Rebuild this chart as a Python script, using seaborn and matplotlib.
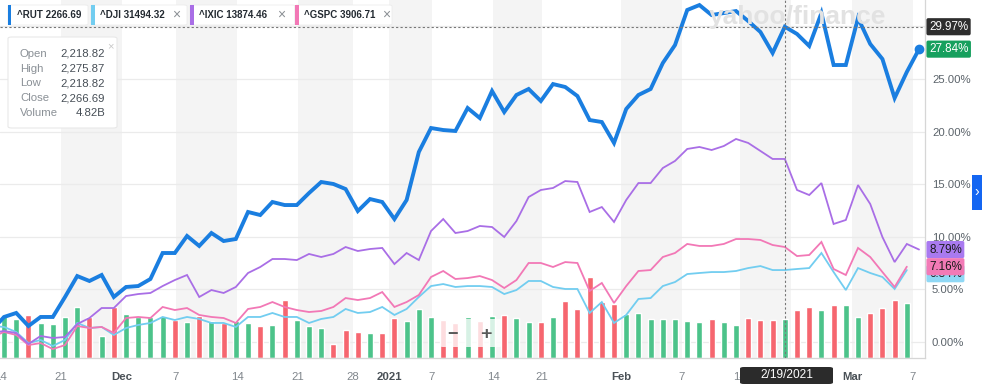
import matplotlib
matplotlib.use("Agg")
import matplotlib.pyplot as plt
import numpy as np
import pandas as pd
import seaborn as sns
from matplotlib.patches import FancyBboxPatch, Rectangle
from matplotlib.transforms import blended_transform_factory

# ---------------- data ----------------
holidays = ["2020-11-26", "2020-12-25", "2021-01-01", "2021-01-18", "2021-02-15"]
dates = [d for d in pd.bdate_range("2020-11-13", "2021-03-08")
         if d.strftime("%Y-%m-%d") not in holidays]

rut = [1.10, 2.38, 2.76, 1.52, 2.38, 2.38, 4.28, 6.27, 5.80, 6.37, 4.28, 5.23, 5.32, 5.99, 8.46,
       8.46, 10.08, 9.13, 10.36, 9.60, 9.79, 12.36, 12.07, 13.31, 13.02, 13.02, 14.16, 15.21,
       15.02, 14.54, 12.45, 13.59, 13.31, 11.69, 13.50, 18.06, 20.34, 20.15, 20.06, 22.24, 21.29,
       23.86, 21.86, 23.48, 24.05, 22.91, 24.52, 24.24, 23.38, 21.10, 20.91, 18.92, 22.15, 23.48,
       24.05, 26.52, 28.23, 31.56, 32.03, 31.08, 31.27, 31.46, 30.51, 29.47, 27.47, 29.97, 29.28,
       28.14, 31.27, 26.33, 26.33, 30.80, 28.33, 26.90, 23.19, 25.67, 27.84]
ixic = [0.86, 1.05, 0.86, -0.19, 0.57, 0.38, 0.48, 1.71, 2.28, 3.23, 3.23, 4.37, 4.56, 4.66, 5.32,
        5.89, 6.37, 4.28, 4.94, 4.66, 5.23, 6.56, 7.13, 7.89, 7.89, 7.79, 8.37, 8.08, 8.37, 9.03,
        8.65, 8.84, 8.94, 7.41, 8.46, 7.79, 10.55, 11.69, 10.36, 10.55, 11.03, 10.93, 9.98, 11.50,
        13.78, 14.45, 14.64, 15.30, 15.21, 12.36, 12.83, 11.41, 13.50, 15.11, 15.11, 16.54, 17.21,
        18.35, 18.54, 18.25, 18.63, 19.30, 18.92, 18.16, 17.40, 17.40, 14.45, 13.97, 15.11, 11.22,
        11.60, 14.92, 13.12, 9.98, 7.60, 9.32, 8.79]
gspc = [0.48, 0.95, 0.67, -0.29, -0.10, -0.67, -0.29, 1.52, 1.33, 1.43, 0.86, 2.28, 2.38, 2.28,
        3.33, 3.04, 3.23, 2.57, 2.38, 2.28, 1.81, 3.14, 3.33, 3.80, 3.33, 3.04, 2.85, 2.95, 3.33,
        4.18, 3.99, 4.18, 4.75, 3.33, 3.80, 4.47, 6.18, 6.75, 5.99, 6.08, 6.27, 5.89, 5.13, 5.89,
        7.51, 7.51, 7.13, 7.60, 7.51, 4.85, 5.61, 3.71, 5.32, 6.75, 6.84, 8.08, 8.46, 9.32, 9.13,
        9.13, 9.32, 9.79, 9.79, 9.70, 9.22, 9.03, 8.17, 8.27, 9.51, 6.94, 6.37, 8.94, 8.08, 6.65,
        5.23, 7.16]
dji = [1.52, 1.43, 0.95, -0.10, 0.19, -0.38, 0.19, 1.81, 1.33, 1.43, 0.67, 1.33, 1.62, 1.81, 2.38,
       2.09, 2.38, 2.19, 1.81, 1.81, 1.43, 2.38, 2.38, 2.76, 2.38, 2.38, 1.81, 2.19, 2.38, 3.14,
       2.76, 2.85, 3.33, 2.57, 3.14, 4.28, 5.32, 5.51, 5.23, 5.32, 5.32, 5.23, 4.56, 4.94, 5.80,
       5.80, 5.23, 5.04, 5.04, 2.76, 3.80, 1.81, 2.57, 4.09, 4.18, 5.32, 5.70, 6.46, 6.56, 6.65,
       6.65, 6.75, 7.03, 7.22, 6.84, 6.84, 6.94, 7.03, 8.46, 6.65, 4.94, 7.03, 6.56, 6.18, 5.04, 6.84]

# RUT volume (billions), from Nov 16 on
volume = [3.77, 3.42, 3.77, 3.07, 2.98, 3.60, 4.47, 3.60, 1.93, 4.47,
          3.86, 3.60, 3.60, 3.68, 3.33, 3.16, 3.68, 3.24, 3.07, 3.24,
          3.07, 2.81, 2.89, 5.09, 3.33, 2.81, 2.63, 1.23, 2.46, 2.28,
          2.19, 2.19, 3.51, 3.24, 4.30, 3.60, 3.33, 3.07, 3.60, 3.24,
          3.68, 3.77, 3.51, 3.16, 3.16, 3.60, 5.00, 4.30, 7.10, 4.91,
          4.74, 3.86, 3.95, 3.42, 3.42, 3.42, 3.24, 3.16, 3.42, 3.16,
          2.89, 3.51, 3.33, 3.33, 3.42, 4.21, 4.47, 4.21, 4.65, 4.65,
          3.60, 3.95, 4.39, 5.09, 4.82]
vol_dir = list("GGRGGGGRGR" "GGGGRGRGRG" "GRGRGGGRRR" "GRRGGGRRGR" "GRGGRGRRRR"
               "RGGGGGGGRG" "GRRRGRRGRG" "GRRRG")

tick_labels = ["14", "21", "Dec", "7", "14", "21", "28", "2021", "7", "14", "21", "Feb",
               "7", "14", "21", "Mar", "7"]
tick_major = {"Dec", "2021", "Feb", "Mar"}
tick_pos = [-0.3, 4.67, 9.67, 14.1, 19.1, 24.1, 28.6, 31.56, 35.08, 40.08, 44.1, 50.57,
            55.57, 60.3, 64.5, 69.5, 74.5]

legend_items = [("^RUT", "2266.69", "#1a7ee0", False),
                ("^DJI", "31494.32", "#72cdf0", True),
                ("^IXIC", "13874.46", "#a96ee6", True),
                ("^GSPC", "3906.71", "#f278b6", True)]
info_rows = [("Open", "2,218.82"), ("High", "2,275.87"), ("Low", "2,218.82"),
             ("Close", "2,266.69"), ("Volume", "4.82B")]
cross_idx = 64
cross_value = 29.97
cross_date = "2/19/2021"

# ---------------- figure ----------------
sns.set_theme(style="white")
plt.rcParams["font.family"] = ["Liberation Sans", "DejaVu Sans"]

W, H = 982, 391
fig = plt.figure(figsize=(W / 100, H / 100), dpi=100)
fig.patch.set_facecolor("white")
rect = [0, 33 / H, 925 / W, 358 / H]
XL = (-0.33, 75.49)
YL = (-1.52, 32.51)

def fx(x):
    return x / W

def fy(y):
    return 1 - y / H

# background axes: stripes + grid
axg = fig.add_axes(rect)
axg.set_xlim(*XL)
axg.set_ylim(*YL)
for i in range(1, len(tick_pos) - 1, 2):
    axg.axvspan(tick_pos[i], tick_pos[i + 1], color="#f4f4f4", lw=0, zorder=0)
for v in range(0, 31, 5):
    axg.axhline(v, color="#ebebeb", lw=0.9, zorder=1)
axg.axis("off")

# volume axes
axv = fig.add_axes(rect)
axv.patch.set_alpha(0)
vdf = pd.DataFrame({"pos": np.arange(len(volume)), "vol": volume, "dir": vol_dir})
sns.barplot(data=vdf, x="pos", y="vol", hue="dir", native_scale=True, dodge=False,
            palette={"G": "#4cc38a", "R": "#f6666f"}, width=0.5, saturation=1,
            errorbar=None, legend=False, ax=axv)
axv.set_xlim(*XL)
axv.set_ylim(0, 31.4)
axv.axis("off")

# main axes
ax = fig.add_axes(rect)
ax.patch.set_alpha(0)
pos_full = np.arange(len(dates)) - 1
series = [(dji, "#72cdf0", 1.3), (gspc, "#f278b6", 1.3), (ixic, "#a96ee6", 1.3), (rut, "#1a7ee0", 2.8)]
for vals, col, lw in series:
    sns.lineplot(x=pos_full[:len(vals)], y=vals, color=col, linewidth=lw, ax=ax,
                 solid_joinstyle="miter", zorder=4)
ax.plot([pos_full[len(rut) - 1]], [rut[-1]], "o", color="#1a7ee0", ms=6, zorder=5, clip_on=False)

ax.set_xlim(*XL)
ax.set_ylim(*YL)
ax.set_xlabel("")
ax.set_ylabel("")
ax.yaxis.tick_right()
ax.set_yticks(range(0, 26, 5))
ax.set_yticklabels([f"{v:.2f}%" for v in range(0, 26, 5)])
ax.tick_params(axis="y", length=0, pad=5, labelsize=8.2, labelcolor="#5b636a")
ax.set_xticks(tick_pos)
ax.set_xticklabels(tick_labels)
ax.tick_params(axis="x", length=4, width=0.8, color="#d0d0d0", pad=6, labelsize=8.2,
               labelcolor="#80868c")
for t in ax.get_xticklabels():
    if t.get_text() in tick_major:
        t.set_color("#4a5157")
        t.set_fontweight("bold")
for s in ["top", "left"]:
    ax.spines[s].set_visible(False)
for s in ["right", "bottom"]:
    ax.spines[s].set_color("#d6d6d6")
    ax.spines[s].set_linewidth(0.9)

# crosshair
ax.axvline(cross_idx, color="#777777", lw=0.8, ls=(0, (2, 2)), zorder=6)
ax.axhline(cross_value, color="#777777", lw=0.8, ls=(0, (2, 2)), zorder=6)

# right value labels
bt = blended_transform_factory(ax.transAxes, ax.transData)
def vlabel(y, txt, bg, fg):
    ax.text(1.0 + 4 / 925, y, txt, transform=bt, ha="left", va="center", fontsize=8.4,
            color=fg, clip_on=False, zorder=10,
            bbox=dict(boxstyle="round,pad=0.22,rounding_size=0.15", fc=bg, ec="none"))
vlabel(cross_value, f"{cross_value:.2f}%", "#2e2e2e", "white")
vlabel(rut[-1], f"{rut[-1]:.2f}%", "#16a05e", "white")
vlabel(ixic[-1], f"{ixic[-1]:.2f}%", "#a97af0", "#1b1b1b")
vlabel(dji[-1] - 0.35, f"{dji[-1]:.2f}%", "#8fd8f5", "#1b1b1b")
vlabel(gspc[-1], f"{gspc[-1]:.2f}%", "#f27ab6", "#1b1b1b")

# legend chips
chip_x = [8, 91, 190, 295]
chip_w = [80, 96, 105, 97]
close_x = [None, 176, 281, 386]
for (name, val, col, closable), x0, w, cx in zip(legend_items, chip_x, chip_w, close_x):
    fig.patches.append(FancyBboxPatch((fx(x0), fy(25)), w / W, 20 / H,
                                      boxstyle="round,pad=0,rounding_size=0.003",
                                      transform=fig.transFigure, fc="white", ec="#ececec",
                                      lw=0.6, zorder=20))
    fig.patches.append(Rectangle((fx(x0), fy(25)), 3.5 / W, 20 / H, transform=fig.transFigure,
                                 fc=col, ec="none", zorder=21))
    fig.text(fx(x0 + 9), fy(15), f"{name} {val}", ha="left", va="center", fontsize=7.0,
             color="#232a31", fontweight="bold", zorder=22)
    if closable:
        fig.text(fx(cx), fy(15), "\u00d7", ha="center", va="center", fontsize=10,
                 color="#8a8f94", zorder=22)

# info box
fig.patches.append(FancyBboxPatch((fx(8), fy(128)), 109 / W, 91 / H,
                                  boxstyle="round,pad=0,rounding_size=0.004",
                                  transform=fig.transFigure, fc="white", ec="#e8e8e8",
                                  lw=0.8, zorder=20))
for k, (lab, val) in enumerate(info_rows):
    yy = fy(54 + 14.7 * k)
    fig.text(fx(20), yy, lab, ha="left", va="center", fontsize=8.2, color="#8a9096", zorder=22)
    fig.text(fx(105), yy, val, ha="right", va="center", fontsize=8.2, color="#464e56", zorder=22)
fig.text(fx(110), fy(46), "\u00d7", ha="center", va="center", fontsize=8, color="#c8c8c8", zorder=22)

# watermark
fig.text(fx(797), fy(17), "yahoo/finance", ha="center", va="center", fontsize=19,
         fontweight="bold", color="#e2e2e2", zorder=3)

# zoom control
fig.patches.append(FancyBboxPatch((fx(440), fy(347)), 62 / W, 28 / H,
                                  boxstyle="round,pad=0,rounding_size=0.003",
                                  transform=fig.transFigure, fc=(1, 1, 1, 0.78), ec="none",
                                  zorder=20))
fig.text(fx(452), fy(335), "\u2212", ha="center", va="center", fontsize=13, color="#5a5a5a",
         fontweight="bold", zorder=22)
fig.text(fx(486), fy(335), "+", ha="center", va="center", fontsize=14, color="#5a5a5a",
         fontweight="bold", zorder=22)

# date box
fig.patches.append(FancyBboxPatch((fx(740), fy(384)), 93 / W, 17 / H,
                                  boxstyle="round,pad=0,rounding_size=0.004",
                                  transform=fig.transFigure, fc="#2b2b2b", ec="none", zorder=20))
fig.text(fx(786.5), fy(375.5), cross_date, ha="center", va="center", fontsize=8.6,
         color="white", zorder=22)

# right blue tab
fig.patches.append(Rectangle((fx(972), fy(210)), 10 / W, 35 / H, transform=fig.transFigure,
                             fc="#1466f2", ec="none", zorder=20))
fig.text(fx(977), fy(192), "\u203a", ha="center", va="center", fontsize=10, color="white",
         zorder=22)

fig.savefig("out.png", dpi=100, facecolor="white")
